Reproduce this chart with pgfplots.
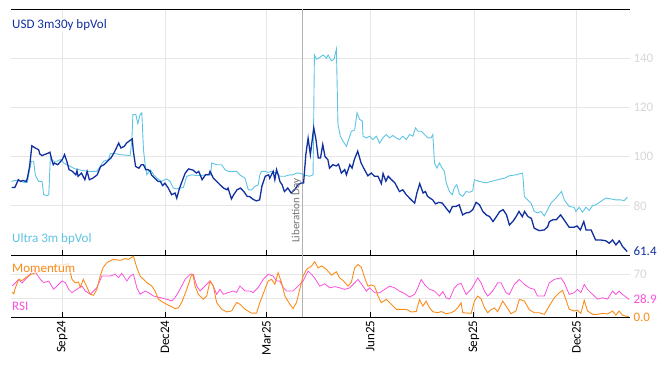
\documentclass[border=0pt]{standalone}
\usepackage{pgfplots}
\pgfplotsset{compat=1.18}
\usepackage{fontspec}
\setmainfont{Carlito}
\definecolor{usdcol}{RGB}{16,48,160}
\definecolor{ultracol}{RGB}{94,196,228}
\definecolor{momcol}{RGB}{250,140,26}
\definecolor{rsicol}{RGB}{250,80,220}
\definecolor{tickgray}{RGB}{215,215,215}
\definecolor{gridgray}{RGB}{230,230,230}
\pgfplotsset{
  panel/.style={
    scale only axis, width=619pt,
    xmin=-45.5, xmax=503.5,
    xtick={0,91,181,273,365,456},
    xtick pos=left, tick align=inside, major tick length=5pt,
    xtick style={black, line width=0.8pt},
    ytick style={draw=none},
    yticklabel pos=right,
    grid=major, major grid style={gridgray, line width=0.6pt},
    separate axis lines,
    x axis line style={black, line width=0.9pt},
    y axis line style={draw=none},
    /pgf/number format/assume math mode=true,
    tick label style={font=\fontsize{13}{15}\selectfont},
    yticklabel style={text=tickgray},
    extra x ticks={213}, extra x tick labels={},
    extra x tick style={major grid style={black!30, line width=0.7pt}, major tick length=0pt},
  },
}
\tikzset{
  lbl/.style={anchor=west, inner sep=1pt, fill=white, fill opacity=0.75, text opacity=1, font=\fontsize{13}{15}\selectfont},
}
\begin{document}
\begin{tikzpicture}
\useasboundingbox (0,0) rectangle (668pt,366pt);
% top panel
\begin{axis}[panel, at={(11pt,111pt)}, anchor=south west, height=246pt,
  ymin=60, ymax=160, ytick={80,100,120,140},
  xticklabels={},
  extra y ticks={61.4}, extra y tick labels={\textcolor{usdcol}{61.4}},
  extra y tick style={grid=none},
]
\addplot[ultracol, line width=0.9pt] coordinates {
(-45,89.9) (-41.6,90.3) (-38.7,90.3) (-34,89.5) (-31,89.5) (-29,94.7) (-27.4,98.1) (-25.4,98.1) (-24,92.6) (-21,89.9) (-18,89.9) (-16.5,84.5) (-13.5,84.1) (-12,84.5) (-10.6,99.4) (-7.7,98.1) (-4.7,98.1) (-1.8,98.8) (1.2,97.4) (4.2,96.7) (7,96) (11.5,95) (17.4,94.4) (23.3,94) (30.7,94) (33.6,96) (36.6,98.1) (41,98.8) (42.5,101.2) (47,101.2) (51.3,100.8) (55.8,100.6) (60.2,100.4) (61.7,106.9) (62.6,117.1) (65.2,117.1) (67,113.4) (69,117.1) (70.5,117.8) (72,102.8) (73.5,96.7) (75,92.6) (78,94.7) (81,92.6) (84,91.2) (88,89.9) (91,90.6) (92.7,90.9) (95.6,89.9) (98.5,87.2) (101.5,86.9) (104.4,87.2) (107.4,87.5) (110.4,92) (114.8,92.6) (119.2,92.3) (122,92.3) (129.5,92.6) (131.6,92.6) (132.5,97.4) (137,96.7) (141.3,96.7) (144.3,94.7) (147.2,94) (154.6,94) (157.5,92.6) (162,91.2) (165,86.5) (168,86.5) (170.8,87.9) (173.7,88.5) (175.2,92.6) (176.7,94) (179.7,94) (182.6,93.6) (185.6,94) (190,93.3) (193,92) (197.4,92) (201.8,92.6) (204.7,92.6) (207.7,93.3) (210.6,93.3) (213.6,92.6) (216.6,92.3) (219.5,92) (222.4,92.6) (223.6,141.3) (225.4,139.6) (228.3,140.3) (231.3,141.3) (234.3,140) (235.7,141.3) (238.7,138.9) (241,139.6) (243.1,143.7) (244.5,113.1) (246.6,108.3) (249,106.2) (252,104.2) (255,108.3) (256.4,110.3) (259.3,110.8) (261.4,117.8) (263.8,115.1) (266.1,114.4) (266.7,108.3) (269.7,107.6) (272.6,108.3) (275.5,106.9) (278.5,108.3) (281.4,105.5) (284.4,107.6) (287.3,109) (290.3,107.6) (293.2,108.6) (296.2,107.6) (299.1,106.9) (302,108.3) (305.1,106.9) (308,109) (310.9,108.3) (313.3,111.7) (315.3,110.3) (318.3,110.3) (321.2,109) (324.2,107.6) (327.2,107.6) (328.6,109) (330.1,97.4) (332.2,95.3) (334.5,97.4) (336.9,95.3) (338.9,94) (340.5,89.3) (343.4,85.8) (345.8,84.5) (347.8,87.5) (349.9,88.6) (352.2,84.8) (355.1,83.8) (358.1,85.8) (361.1,85.5) (364,86.1) (365.5,90.6) (369.9,89.9) (375.8,89.3) (380.3,89.9) (386.1,90.6) (392.1,91.2) (396.5,92.2) (402.4,92.6) (408.3,93.3) (409.8,83.8) (412.7,82.4) (415.7,81.1) (418.6,77.7) (421.5,77.1) (424.5,77.7) (427.5,75.9) (430.4,78.4) (433.4,81.1) (437.8,83.1) (440.7,84.8) (442.8,85.8) (445.2,82.4) (449.6,79.7) (454,79.4) (455.5,77.7) (458.4,79.4) (461.4,77.4) (464.4,79.4) (467.3,78.1) (470.3,80.1) (473.2,80.4) (477.6,81.8) (482,83.1) (486.5,82.8) (490.9,82.4) (495.3,82.4) (498.2,82.1) (501.2,83.5)
};
\addplot[usdcol, line width=1.3pt] coordinates {
(-45,87.4) (-42,87.5) (-39,90.6) (-37,89.9) (-35,90.3) (-32,89.9) (-31,91.2) (-29,96) (-27,104.4) (-24,103.5) (-21,102.8) (-20,101.1) (-18,100.4) (-16,100.8) (-13,101.3) (-11,101.8) (-9,98.1) (-8,96.7) (-7,97.4) (-4,96.7) (0,98.8) (2,100.8) (4,98.1) (6,94.7) (9,94) (12,92.6) (13,94.3) (14,92) (17,93.3) (20,90.6) (22,94) (24,90.6) (27,91.2) (31,92.6) (34,96) (37,96.7) (40,98.1) (43,99.4) (45,100.8) (48,103.5) (50,105.5) (52,103.5) (55,104.2) (57,105.5) (59,106.2) (62,107.2) (63,102.2) (65,96) (68,95.3) (70,96.7) (72,96.7) (74,94.7) (76,94.7) (78,94) (79,92.6) (82,91.2) (85,89.9) (87,89.9) (89,88.2) (91,89.2) (94,87.2) (97,84.5) (100,85.2) (101.5,83.1) (104,87.2) (109,93.3) (112,95) (116,94.5) (119,93.3) (121,94) (124,90.6) (127,92.6) (130,92.6) (131,94) (134,91.2) (137,89.9) (140,88.5) (143,87.2) (146,86.5) (147,87.2) (150,82.8) (152,84.5) (155,86.5) (158,87.2) (161,85.8) (164,83.8) (166,83.8) (169,82.7) (172,82) (175,82.4) (177,87.9) (180,92) (183,92.6) (184,91.2) (187,94) (188.5,90.6) (190,94.7) (191.5,92.6) (193,89.9) (195,88.5) (197,85.8) (200,87.2) (203,85.2) (206,86.5) (209,88.5) (212,89.3) (214,89.3) (216,100.8) (218,107.5) (220,100.8) (223,111.7) (225,106.9) (227,99.4) (229,99.4) (231,104.9) (233,100) (235.5,98.8) (237,95.3) (240,96.7) (243,96.2) (245,96.9) (247.5,93.3) (250.5,94.7) (252,92.6) (255,96.7) (257,95.3) (259,98.8) (262,102.2) (265,97.4) (268,94.7) (271,92.2) (274,93.3) (277,92) (280,92) (283,89) (284.5,93.1) (287,90) (289,92) (292,90.6) (295,89.3) (299,85.8) (302,86.5) (305,84.5) (309.5,82.4) (312.5,81.1) (314.5,85.2) (317,89) (320,85.2) (322,85.8) (324,83.8) (328.5,82.4) (331,80.8) (334,81.4) (337,81.1) (340.5,79) (343.5,77.3) (346,79.7) (349,79.7) (352,80.4) (355,76.3) (358,77.1) (361,77.3) (364,78.4) (367,81.4) (370,80.4) (373,77.7) (376,76.3) (379,75.6) (382,73.6) (385,75.6) (388,77.7) (391,78.4) (394,76.3) (396.5,72.2) (399.5,73.6) (402.5,75.6) (405,77.7) (408,75.6) (410,77.7) (413,75.6) (416,74.9) (418.5,70.9) (423,69.9) (427.5,70.2) (430.5,71.5) (432,73.6) (435,74.3) (438,74.3) (442,76.3) (445,74.3) (449.5,71.3) (454,71.3) (456.5,71.8) (459.5,70.2) (462.5,73.6) (464.5,70.2) (469,70.2) (473,66.1) (477.5,66.1) (482,65.8) (485,64.8) (488,66.1) (491,64.1) (494,65.8) (497,63.4) (501,61.4)
};
\node[lbl, text=usdcol] at (rel axis cs:0,0.935) {USD 3m30y bpVol};
\node[lbl, text=ultracol] at (rel axis cs:0,0.065) {Ultra 3m bpVol};
\node[anchor=south west, rotate=90, inner sep=1pt, text=black!55, font=\fontsize{11}{13}\selectfont] at (axis cs:213,64.5) {Liberation Day};
\end{axis}
% bottom panel
\begin{axis}[panel, at={(11pt,49pt)}, anchor=south west, height=62pt,
  ymin=0, ymax=102, ytick={30,70}, yticklabels={,70},
  xticklabels={Sep24,Dec24,Mar25,Jun25,Sep25,Dec25},
  xticklabel style={rotate=90, anchor=east, text=black},
  extra y ticks={0,28.9}, extra y tick labels={\textcolor{momcol}{0.0},\textcolor{rsicol}{28.9}},
  extra y tick style={grid=none},
]
\addplot[rsicol, line width=0.8pt] coordinates {
(-44.5,51) (-41.6,56) (-38.7,62) (-35.7,56) (-32.7,62) (-29.8,67.4) (-25.4,78.4) (-22.4,70) (-19.5,62) (-16.5,56.6) (-12.1,59) (-7.7,45.6) (-4.7,51) (-0.3,59.2) (2.7,56.6) (5.6,45.6) (8.6,40.2) (13,45.6) (17.4,51) (20.4,42.8) (24.8,37.4) (30.7,48.4) (35.1,67.4) (42.5,67.4) (46.9,70.2) (49.8,64.8) (52.8,71.8) (57.3,59.2) (60.2,67.4) (63.1,70.2) (66.1,48.4) (69,37.4) (73.5,42.8) (76.4,40.2) (80.8,34.6) (86.7,32) (92.7,29.2) (97.1,26.4) (100,32) (104.4,45.6) (108.9,62) (113.3,70.2) (116.2,70.2) (119.2,51) (122.1,42.8) (126.6,51) (131,59.2) (133.9,51) (136.9,37.4) (139.8,45.6) (142.8,37.4) (147.2,40.2) (151.6,42.8) (154.6,40.2) (157.5,51) (162,42.8) (166.4,42.8) (169.3,40.2) (173.7,48.4) (178.2,62) (182.6,70.2) (187,67.4) (190,59.2) (192.9,59.2) (195.9,48.4) (198.9,42.8) (204.7,42.8) (209.1,51) (213.6,59.2) (218,75.6) (221,70.2) (223.9,64) (228.3,50.8) (232.8,54.6) (237.2,48) (241.7,50) (246,48) (250.5,45.4) (254.9,48) (259.3,56.2) (262.2,61.8) (265.2,54.6) (269.7,42.6) (272.6,48) (277,39.8) (281.4,39.8) (285.9,45.4) (290.3,50.8) (294.7,48) (299.1,42.6) (303.6,38.5) (308,32.8) (312.4,37.2) (315.3,48) (318.3,61.8) (321.2,53.6) (325.7,45.4) (330.1,42.6) (334.5,34.4) (337.5,42) (340.5,31.6) (343.4,29.5) (347.8,48) (350.7,53.6) (353.7,55.2) (358.1,37.2) (362.6,45.4) (368.5,64.4) (371.4,56.2) (374.4,42.6) (377.3,34.4) (381.7,42.6) (386.1,56.2) (389.1,56.2) (393.6,39.8) (396.5,37.2) (400.9,53.6) (405.3,61.8) (409.8,53.6) (414.2,48) (418.6,45.4) (421.5,34.4) (427.5,34.4) (431.9,56.2) (436.3,61.8) (442.2,64.4) (445.2,56.2) (449.6,37.2) (454,40) (456.9,45.4) (459.9,40) (462.9,53.6) (465.8,45.4) (470.3,37.2) (474.7,29.5) (479.2,31.6) (483.6,29.5) (488,42.6) (491,37.2) (493.8,42.6) (496.8,37.2) (502.7,28.9)
};
\addplot[momcol, line width=0.9pt] coordinates {
(-44.5,40.7) (-43,38) (-41.6,48) (-38.7,61.8) (-35.7,60) (-32.7,64.4) (-30,68) (-25,72) (-20,75) (-15,78) (-10,82) (-5,85) (2.7,86.6) (5.3,88) (8.6,62) (11.5,56) (14.4,57.5) (15.9,48.9) (18.6,62) (21.9,48.9) (24.8,37.4) (27.7,35.8) (30.7,45.6) (33.6,67.4) (36.3,81.7) (39.6,89.4) (45.1,94.8) (51.3,93.2) (55.8,96) (58.7,94.8) (63.1,100) (66.1,81.2) (69,67.4) (72,62) (75,56.6) (79.4,51) (82.3,42.8) (85.2,29.2) (89.6,23.8) (95.6,18.2) (100,13.9) (102.9,15) (105.9,23.8) (110.4,45.6) (114.8,70.2) (116.2,67.4) (117.7,51) (120.6,37.4) (125,29.2) (128.1,34.6) (131,59.2) (133.9,51) (136.9,23.8) (141.3,12.8) (145.8,8.4) (150.2,10) (154.6,23.8) (157.5,21) (162,12.8) (167.9,6.2) (172.3,6.5) (175.2,23.8) (179.7,45.6) (182.6,59.2) (185.6,62) (188.5,53.8) (191.4,73) (194.4,56.6) (197.4,34.6) (201.8,21) (204.7,13.9) (207.7,23.8) (210.6,45.6) (213.6,67.4) (216.6,78.4) (221,83.8) (223.9,91) (226.8,80.8) (230.1,84) (234.3,78.2) (238.7,68.9) (243.1,74.3) (246,64.4) (249,60) (253.4,50.8) (256.4,57.5) (259.3,80.8) (262.2,86.4) (265.2,82) (268.2,64.4) (271.1,50.8) (274.1,52.5) (277,50.8) (280,34.4) (282.9,23.4) (287.3,29) (291.8,20.8) (296.2,12.6) (305.1,12.6) (309.5,8.2) (313.9,9) (316.8,29) (319.8,18) (322.7,26.2) (325.7,15) (328.6,8.7) (333,7) (336,9) (340.5,5.4) (344.9,7) (347.8,10) (350.7,15.2) (353.7,23.4) (355.1,7) (362.6,6) (365.5,26.2) (368.5,34.4) (371.4,30) (374.4,15.2) (377.3,7) (380.3,12) (383.2,15) (386.1,8.7) (390.6,26.2) (393.6,18) (398,5.4) (402.4,10) (405.3,29) (409.8,26.2) (414.2,12) (418.6,7) (423,7) (427.5,4.4) (431.9,18) (436.3,31.6) (440.7,39.8) (443.7,43.8) (446.6,29) (449.6,12.6) (454,10) (456.9,11) (459.9,6) (462.9,27.4) (465.8,10) (470.3,4.4) (474.7,4.4) (479.2,6) (483.6,5) (488,9.8) (491,3) (493.8,9.8) (496.8,3) (502.7,0)
};
\node[lbl, text=momcol] at (rel axis cs:0,0.79) {Momentum};
\node[lbl, text=rsicol] at (rel axis cs:0,0.177) {RSI};
\end{axis}
\end{tikzpicture}
\end{document}
